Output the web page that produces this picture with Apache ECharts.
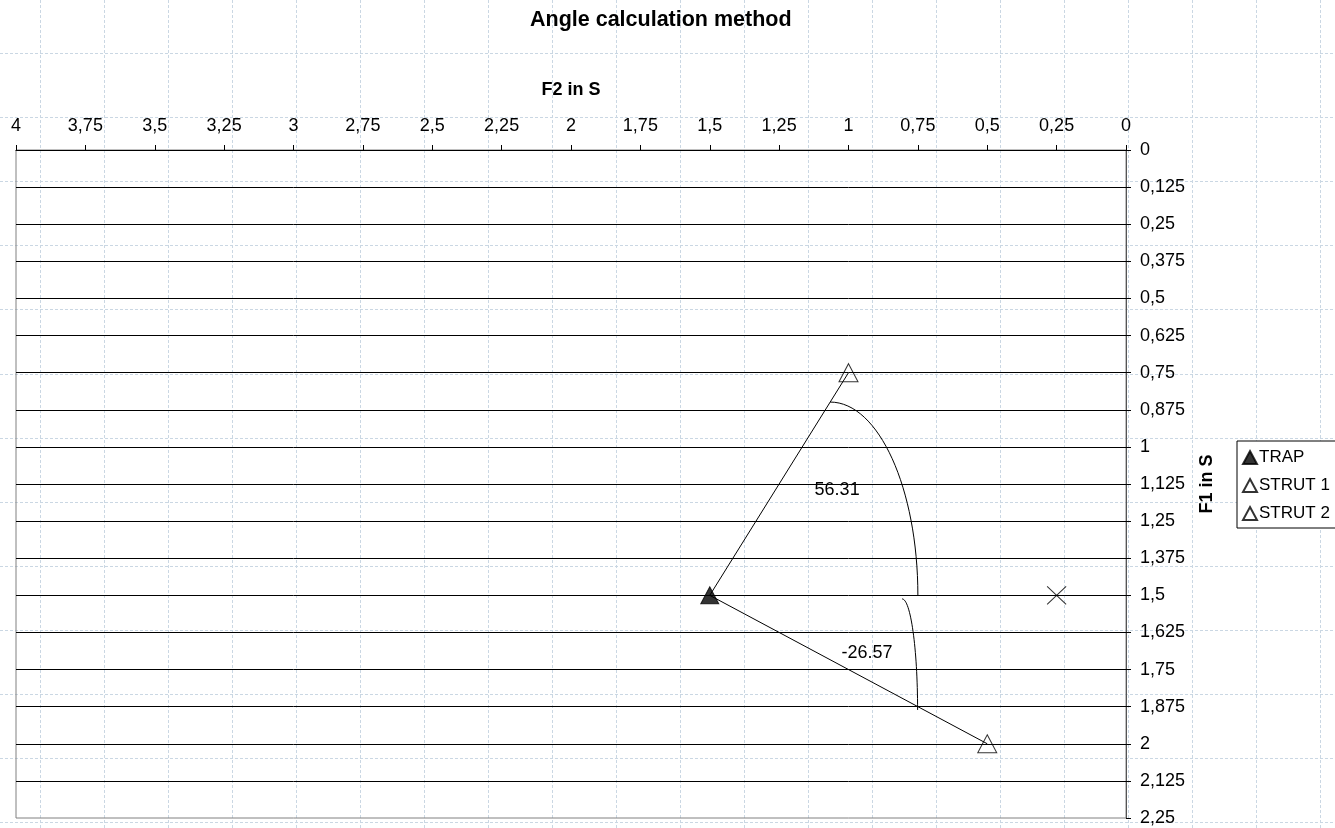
<!DOCTYPE html>
<html>
<head>
<meta charset="utf-8">
<title>Angle calculation method</title>
<script src="https://cdn.jsdelivr.net/npm/echarts@6/dist/echarts.min.js"></script>
<style>
  html, body { margin: 0; padding: 0; background: #ffffff; }
  #chart { width: 1335px; height: 828px; }
</style>
</head>
<body>
<div id="chart"></div>
<script>
// ---- Axis ranges (F2 runs right-to-left along the top, F1 runs downward on the right)
const f2Range = [0, 4];
const f2Step = 0.25;
const f1Range = [0, 2.25];
const f1Step = 0.125;

// ---- Points as [F2, F1]
const trapPoint = [1.5, 1.5];
const strut1Point = [1.0, 0.75];
const strut2Point = [0.5, 2.0];
const crossPoint = [0.25, 1.5];

// ---- Angle arcs as [startF2, startF1, endF2, endF1] (quarter ellipses)
const arcUpper = [1.066, 0.849, 0.75, 1.5];
const arcLower = [0.807, 1.512, 0.751, 1.886];

// ---- Where the angle values are written, as [F2, F1]
const noteUpper = [1.041, 1.145];
const noteLower = [0.933, 1.694];

const FONT = '"Liberation Sans", Arial, sans-serif';
const commaFmt = v => String(v).replace('.', ',');

// Angle of each strut seen from the trap, in degrees (F2 grows to the left, F1 grows downward)
function angleFrom(trap, strut) {
  const run = trap[0] - strut[0];
  const rise = trap[1] - strut[1];
  return (Math.atan2(rise, run) * 180 / Math.PI).toFixed(2);
}

// Light dashed sheet gridlines behind the chart
const sheetLines = [];
const sheetStyle = { stroke: '#cad7e3', lineWidth: 1, lineDash: [3, 2] };
for (let x = 40; x < 1335; x += 64) {
  sheetLines.push({
    type: 'line', silent: true, z: -1,
    shape: { x1: x + 0.5, y1: 0, x2: x + 0.5, y2: 828 },
    style: sheetStyle
  });
}
for (let y = 53; y < 828; y += 64.1) {
  const yy = Math.round(y) + 0.5;
  sheetLines.push({
    type: 'line', silent: true, z: -1,
    shape: { x1: 0, y1: yy, x2: 1335, y2: yy },
    style: sheetStyle
  });
}

const chart = echarts.init(document.getElementById('chart'), null, { renderer: 'canvas' });

const option = {
  backgroundColor: '#ffffff',
  animation: false,
  textStyle: { fontFamily: FONT },
  title: {
    text: 'Angle calculation method',
    left: 530,
    top: 9,
    padding: 0,
    textStyle: { fontFamily: FONT, fontSize: 21.5, fontWeight: 'bold', color: '#000' }
  },
  graphic: { elements: sheetLines },
  legend: {
    data: ['TRAP', 'STRUT 1', 'STRUT 2'],
    orient: 'vertical',
    left: 1237,
    top: 441,
    padding: [6, 12, 4, 5],
    itemGap: 7,
    itemWidth: 14,
    itemHeight: 13,
    backgroundColor: '#ffffff',
    borderColor: '#000000',
    borderWidth: 1,
    borderRadius: 0,
    textStyle: { fontFamily: FONT, fontSize: 17, color: '#000', lineHeight: 21, padding: [0, 0, 0, -3] }
  },
  grid: {
    left: 16,
    right: 209,
    top: 150,
    bottom: 10,
    show: true,
    borderColor: '#808080',
    borderWidth: 1,
    backgroundColor: 'transparent'
  },
  xAxis: {
    type: 'value',
    position: 'top',
    inverse: true,
    min: f2Range[0],
    max: f2Range[1],
    interval: f2Step,
    name: 'F2 in S',
    nameLocation: 'middle',
    nameGap: 51,
    nameTextStyle: { fontFamily: FONT, fontSize: 18, fontWeight: 'bold', color: '#000' },
    axisLine: { show: true, lineStyle: { color: '#000', width: 1 } },
    axisTick: { show: true, inside: false, length: 5, lineStyle: { color: '#000' } },
    axisLabel: {
      show: true, margin: 15, showMinLabel: true, showMaxLabel: true,
      fontFamily: FONT, fontSize: 18, color: '#000', formatter: commaFmt
    },
    splitLine: { show: false }
  },
  yAxis: {
    type: 'value',
    position: 'right',
    inverse: true,
    min: f1Range[0],
    max: f1Range[1],
    interval: f1Step,
    name: 'F1 in S',
    nameLocation: 'middle',
    nameRotate: 90,
    nameGap: 72,
    nameTextStyle: { fontFamily: FONT, fontSize: 18, fontWeight: 'bold', color: '#000' },
    axisLine: { show: true, lineStyle: { color: '#555', width: 1 } },
    axisTick: { show: true, inside: false, length: 5, lineStyle: { color: '#000' } },
    axisLabel: {
      show: true, margin: 14, showMinLabel: true, showMaxLabel: true,
      fontFamily: FONT, fontSize: 18, color: '#000', formatter: commaFmt
    },
    splitLine: { show: true, showMaxLine: false, lineStyle: { color: '#000', width: 1 } }
  },
  series: [
    // Struts joined to the trap
    {
      name: 'trap-strut1', type: 'line', silent: true, z: 3,
      data: [trapPoint, strut1Point], showSymbol: false, symbol: 'none',
      lineStyle: { color: '#000', width: 1 }
    },
    {
      name: 'trap-strut2', type: 'line', silent: true, z: 3,
      data: [trapPoint, strut2Point], showSymbol: false, symbol: 'none',
      lineStyle: { color: '#000', width: 1 }
    },
    // Angle arcs drawn as quarter ellipses between their two ends
    {
      name: 'arcs', type: 'custom', silent: true, z: 3, clip: false,
      data: [arcUpper, arcLower],
      encode: { x: [0, 2], y: [1, 3] },
      renderItem: function (params, api) {
        const p0 = api.coord([api.value(0), api.value(1)]);
        const p1 = api.coord([api.value(2), api.value(3)]);
        const k = 0.5523;
        const rx = p1[0] - p0[0];
        const ry = p1[1] - p0[1];
        return {
          type: 'bezierCurve',
          shape: {
            x1: p0[0], y1: p0[1],
            x2: p1[0], y2: p1[1],
            cpx1: p0[0] + k * rx, cpy1: p0[1],
            cpx2: p1[0], cpy2: p1[1] - k * ry
          },
          style: { fill: 'none', stroke: '#000', lineWidth: 1 }
        };
      }
    },
    // Angle values
    {
      name: 'angles', type: 'custom', silent: true, z: 4, clip: false,
      data: [
        [noteUpper[0], noteUpper[1], angleFrom(trapPoint, strut1Point)],
        [noteLower[0], noteLower[1], angleFrom(trapPoint, strut2Point)]
      ],
      renderItem: function (params, api) {
        const p = api.coord([api.value(0), api.value(1)]);
        return {
          type: 'text',
          style: {
            text: String(api.value(2)),
            x: p[0], y: p[1],
            align: 'center', verticalAlign: 'middle',
            fontFamily: FONT, fontSize: 18, fill: '#000'
          }
        };
      }
    },
    {
      name: 'TRAP', type: 'scatter', z: 5,
      data: [trapPoint],
      symbol: 'triangle', symbolSize: [18, 17],
      itemStyle: { color: '#000', borderColor: '#000', borderWidth: 1 }
    },
    {
      name: 'STRUT 1', type: 'scatter', z: 5,
      data: [strut1Point],
      symbol: 'triangle', symbolSize: [19, 18],
      itemStyle: { color: 'rgba(255,255,255,0)', borderColor: '#000', borderWidth: 1 }
    },
    {
      name: 'STRUT 2', type: 'scatter', z: 5,
      data: [strut2Point],
      symbol: 'triangle', symbolSize: [19, 18],
      itemStyle: { color: 'rgba(255,255,255,0)', borderColor: '#000', borderWidth: 1 }
    },
    {
      name: 'cross', type: 'scatter', z: 5,
      data: [crossPoint],
      symbol: 'path://M0,0L10,10M10,0L0,10', symbolSize: [19, 18],
      itemStyle: { color: 'none', borderColor: '#000', borderWidth: 1 }
    }
  ]
};

chart.setOption(option);
</script>
</body>
</html>
